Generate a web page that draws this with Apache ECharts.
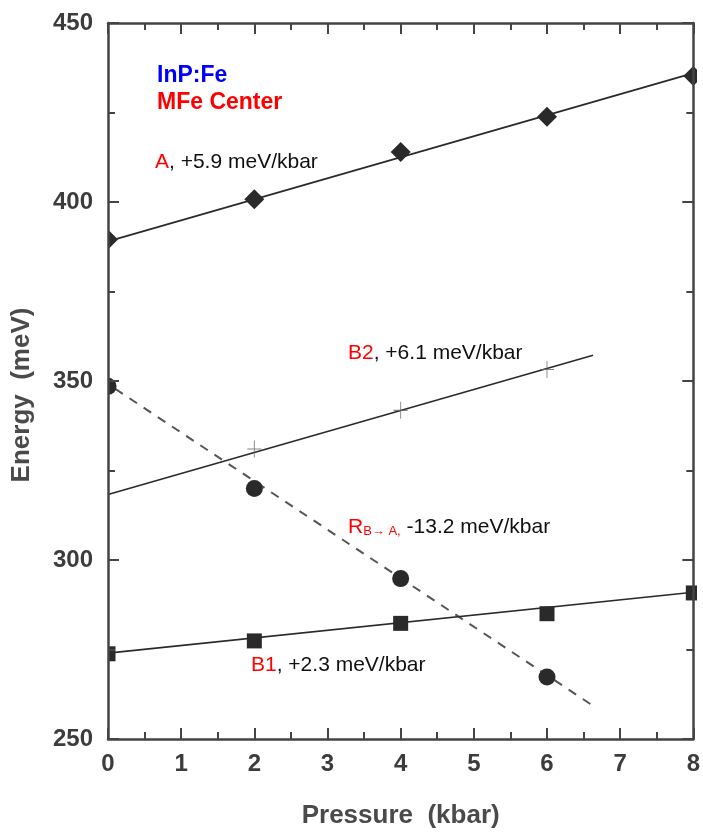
<!DOCTYPE html>
<html>
<head>
<meta charset="utf-8">
<script src="https://cdn.jsdelivr.net/npm/echarts@6/dist/echarts.min.js"></script>
<style>html,body{margin:0;padding:0;background:#fff}#c{width:703px;height:834px}</style>
</head>
<body>
<div id="c"></div>
<script>
// Data
const xTicks = [0, 1, 2, 3, 4, 5, 6, 7, 8];
const yTicks = [250, 300, 350, 400, 450];
const pointsA  = [[0, 389.5], [2, 400.8], [4, 414], [6, 423.8], [8, 435.2]];
const pointsB2 = [[2, 331], [4, 341.8], [6, 353.2]];
const pointsR  = [[0, 348.5], [2, 320], [4, 294.8], [6, 267.3]];
const pointsB1 = [[0, 273.8], [2, 277.4], [4, 282.3], [6, 285], [8, 290.8]];
const fitA  = [[0, 389], [8, 436]];
const fitB2 = [[0, 318.3], [6.63, 357.2]];
const fitR  = [[0.1, 347.8], [6.65, 259]];
const fitB1 = [[0, 274], [8, 291]];

const FONT = '"Liberation Sans", Arial, sans-serif';
const ink = '#2a2a2a';
const tickLabel = {color: '#3c3c3c', fontFamily: FONT, fontWeight: 'bold', fontSize: 24};
const plusPath = 'path://M0,-10L0,10M-10,0L10,0';

const chart = echarts.init(document.getElementById('c'), null, {renderer: 'canvas'});

function axisBase(extra) {
  return Object.assign({
    z: 8,
    axisLine: {show: true, onZero: false, lineStyle: {color: '#444', width: 2.5}},
    axisTick: {show: true, inside: true, length: 11, lineStyle: {color: '#444', width: 2}},
    minorTick: {show: true, splitNumber: 2, length: 7, lineStyle: {color: '#444', width: 2}},
    splitLine: {show: false}
  }, extra);
}

const labelRich = {
  r: {fill: '#ff0000', fontSize: 21, fontFamily: FONT},
  k: {fill: '#111', fontSize: 21, fontFamily: FONT}
};

chart.setOption({
  animation: false,
  backgroundColor: '#fff',
  grid: {left: 108, right: 6, top: 23, bottom: 95, containLabel: false},
  xAxis: [
    axisBase({type: 'value', min: xTicks[0], max: xTicks[xTicks.length - 1], interval: 1, position: 'bottom',
      axisLabel: Object.assign({margin: 13}, tickLabel),
      name: 'Pressure  (kbar)', nameLocation: 'middle', nameGap: 64,
      nameTextStyle: {color: '#4a4a4a', fontFamily: FONT, fontWeight: 'bold', fontSize: 26}}),
    axisBase({type: 'value', min: xTicks[0], max: xTicks[xTicks.length - 1], interval: 1, position: 'top',
      axisLabel: {show: false}})
  ],
  yAxis: [
    axisBase({type: 'value', min: yTicks[0], max: yTicks[yTicks.length - 1], interval: 50, position: 'left',
      axisLabel: Object.assign({margin: 15}, tickLabel)}),
    axisBase({type: 'value', min: yTicks[0], max: yTicks[yTicks.length - 1], interval: 50, position: 'right',
      axisLabel: {show: false}})
  ],
  series: [
    {type: 'line', data: fitA, showSymbol: false, lineStyle: {color: ink, width: 1.6}, z: 2},
    {type: 'line', data: fitB2, showSymbol: false, lineStyle: {color: ink, width: 1.6}, z: 2},
    {type: 'line', data: fitR, showSymbol: false, lineStyle: {color: '#555', width: 2, type: [9, 8]}, z: 2},
    {type: 'line', data: fitB1, showSymbol: false, lineStyle: {color: ink, width: 1.6}, z: 2},
    {type: 'scatter', data: pointsA, symbol: 'diamond', symbolSize: [20, 20], itemStyle: {color: ink, opacity: 1}, z: 3},
    {type: 'scatter', data: pointsB2, symbol: plusPath, symbolSize: [14, 17], itemStyle: {color: 'none', borderColor: '#666', borderWidth: 1}, z: 3},
    {type: 'scatter', data: pointsR, symbol: 'circle', symbolSize: 17, itemStyle: {color: ink, opacity: 1}, z: 3},
    {type: 'scatter', data: pointsB1, symbol: 'rect', symbolSize: 15, itemStyle: {color: ink, opacity: 1}, z: 3}
  ],
  graphic: [
    // white strips outside the frame so edge markers appear cut by the axes, as in the original
    {type: 'rect', z: 5, shape: {x: 95, y: 24, width: 13, height: 714}, style: {fill: '#fff'}},
    {type: 'rect', z: 5, shape: {x: 697, y: 24, width: 6, height: 714}, style: {fill: '#fff'}},
    {type: 'text', z: 10, x: 22, y: 395, rotation: Math.PI / 2, style: {
      text: 'Energy  (meV)', fill: '#4a4a4a', font: 'bold 26px ' + FONT, align: 'center', verticalAlign: 'middle'}},
    {type: 'text', z: 10, x: 157, y: 76, style: {text: 'InP:Fe', fill: '#0000ff', font: 'bold 23px ' + FONT, verticalAlign: 'middle'}},
    {type: 'text', z: 10, x: 157, y: 103, style: {text: 'MFe Center', fill: '#ff0000', font: 'bold 23px ' + FONT, verticalAlign: 'middle'}},
    {type: 'text', z: 10, x: 155, y: 162, style: {text: '{r|A}{k|, +5.9 meV/kbar}', rich: labelRich, verticalAlign: 'middle'}},
    {type: 'text', z: 10, x: 348, y: 353, style: {text: '{r|B2}{k|, +6.1 meV/kbar}', rich: labelRich, verticalAlign: 'middle'}},
    {type: 'text', z: 10, x: 348, y: 527, style: {
      text: '{r|R}{s|B\u2192 A,}{k| -13.2 meV/kbar}', verticalAlign: 'middle',
      rich: {r: {fill: '#ff0000', fontSize: 21, fontFamily: FONT, height: 24},
             s: {fill: '#ff0000', fontSize: 13, fontFamily: FONT, padding: [9, 0, 0, 0], height: 24},
             k: {fill: '#111', fontSize: 21, fontFamily: FONT, height: 24}}}},
    {type: 'text', z: 10, x: 251, y: 665, style: {text: '{r|B1}{k|, +2.3 meV/kbar}', rich: labelRich, verticalAlign: 'middle'}}
  ]
});
</script>
</body>
</html>
